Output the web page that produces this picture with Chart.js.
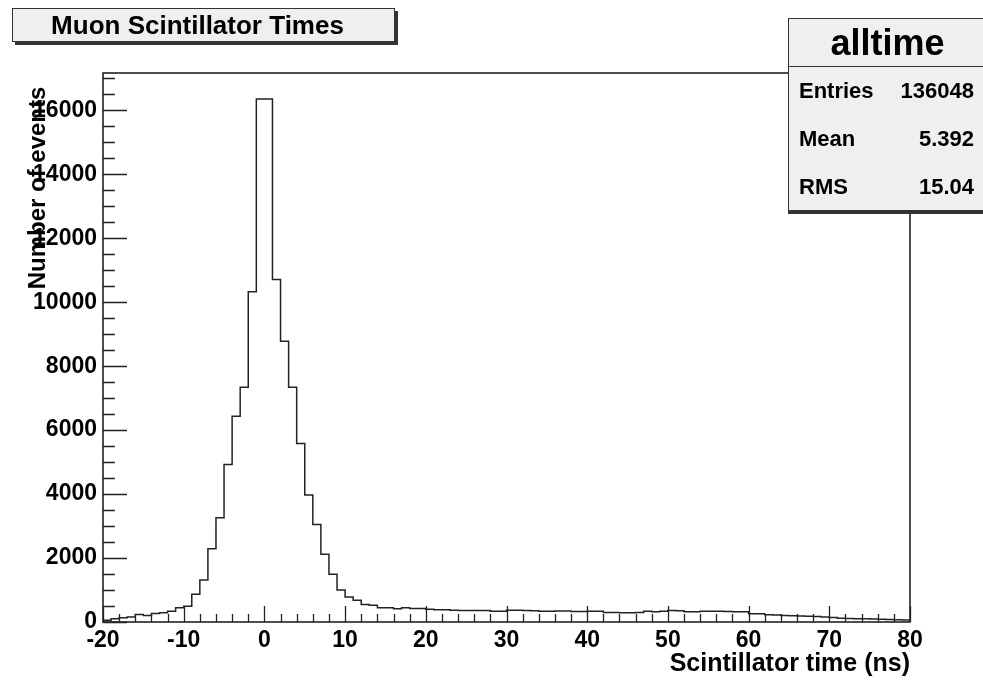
<!DOCTYPE html>
<html>
<head>
<meta charset="utf-8">
<script src="https://cdn.jsdelivr.net/npm/chart.js@4.4.1/dist/chart.umd.min.js"></script>
<style>
  body { margin: 0; background: #fff; overflow: hidden; }
  #wrap { position: relative; width: 983px; height: 682px; overflow: hidden; }
  #wrap, #wrap div { font-family: "Liberation Sans", Arial, Helvetica, sans-serif; font-weight: bold; color: #000; }
  .titlebox { position: absolute; left: 12px; top: 8px; width: 369px; height: 32px; background: #efefef;
    border: 1px solid #333; box-shadow: 3px 3px 0 #333; font-size: 26px; line-height: 32px; text-align: center;
    padding-right: 12px; box-sizing: content-box; }
  .stats { position: absolute; left: 788px; top: 18px; width: 210px; height: 191px; background: #efefef;
    border: 1px solid #333; box-shadow: 0 3px 0 #333; }
  .stats .head { height: 47px; border-bottom: 1px solid #333; font-size: 36px; line-height: 47px; text-align: center; padding-right: 13px; }
  .stats .row { height: 48px; font-size: 22px; line-height: 48px; padding-left: 10px; padding-right: 25px; display: flex; justify-content: space-between; }
</style>
</head>
<body>
<div id="wrap">
  <canvas id="histo" width="983" height="682"></canvas>
  <div class="titlebox">Muon Scintillator Times</div>
  <div class="stats">
    <div class="head">alltime</div>
    <div class="row"><span>Entries</span><span>136048</span></div>
    <div class="row"><span>Mean</span><span>5.392</span></div>
    <div class="row"><span>RMS</span><span>15.04</span></div>
  </div>
</div>
<script>
// histogram: 1 ns bins from -20 to 80
const xMin = -20;
const xMax = 80;
const binWidth = 1;
const counts = [
  56, 100, 130, 160, 234, 203, 265, 286, 338, 443,          // -20 .. -11
  490, 866, 1313, 2292, 3261, 4928, 6438, 7344, 10325, 16356, // -10 .. -1
  16356, 10709, 8781, 7344, 5584, 3969, 3053, 2116, 1491, 1000, // 0 .. 9
  780, 682, 547, 520, 443, 443, 411, 443, 422, 422,         // 10 .. 19
  401, 380, 380, 365, 359, 359, 359, 359, 339, 339,         // 20 .. 29
  370, 365, 359, 355, 339, 339, 345, 345, 328, 328,         // 30 .. 39
  339, 339, 297, 297, 286, 286, 300, 339, 320, 340,         // 40 .. 49
  359, 350, 318, 318, 339, 339, 339, 330, 318, 318,         // 50 .. 59
  260, 255, 225, 220, 200, 195, 185, 180, 170, 160,         // 60 .. 69
  140, 120, 110, 105, 100, 95, 85, 75, 70, 65               // 70 .. 79
];
const xTicks = [-20, -10, 0, 10, 20, 30, 40, 50, 60, 70, 80];
const yTicks = [0, 2000, 4000, 6000, 8000, 10000, 12000, 14000, 16000];
const yMax = 17170;
const xMinorStep = 2;
const yMinorStep = 500;

const FONT = '"Liberation Sans", Arial, Helvetica, sans-serif';

// step outline points: left edge of every bin, closed at both ends
let pts = [{x: xMin, y: 0}];
counts.forEach((c, i) => pts.push({x: xMin + i * binWidth, y: c}));
pts.push({x: xMax, y: counts[counts.length - 1]});
pts.push({x: xMax, y: 0});

const rootFrame = {
  id: 'rootFrame',
  afterDatasetsDraw(chart) {
    const ctx = chart.ctx;
    const a = chart.chartArea;
    const xs = chart.scales.x, ys = chart.scales.y;
    ctx.save();
    ctx.strokeStyle = '#222';
    ctx.lineWidth = 1.3;
    ctx.beginPath();
    // y ticks, inside the frame
    for (let v = 0; v <= yMax; v += yMinorStep) {
      const y = Math.round(ys.getPixelForValue(v)) + 0.5;
      const len = yTicks.includes(v) ? 24 : 12;
      ctx.moveTo(a.left, y);
      ctx.lineTo(a.left + len, y);
    }
    // x ticks
    for (let v = xMin; v <= xMax; v += xMinorStep) {
      const x = Math.round(xs.getPixelForValue(v)) + 0.5;
      const len = xTicks.includes(v) ? 16 : 8;
      ctx.moveTo(x, a.bottom);
      ctx.lineTo(x, a.bottom - len);
    }
    ctx.stroke();
    ctx.lineWidth = 1.6;
    ctx.strokeRect(a.left, a.top, a.right - a.left, a.bottom - a.top);
    // y axis title
    ctx.fillStyle = '#000';
    ctx.font = 'bold 24px ' + FONT;
    ctx.textAlign = 'center';
    ctx.textBaseline = 'middle';
    ctx.translate(38, 188);
    ctx.rotate(-Math.PI / 2);
    ctx.fillText('Number of events', 0, 0);
    ctx.restore();
  }
};

new Chart(document.getElementById('histo'), {
  type: 'line',
  data: {
    datasets: [{
      data: pts,
      stepped: 'before', // horizontal at the bin value up to the next edge
      borderColor: '#222',
      borderWidth: 1.5,
      pointRadius: 0,
      fill: false
    }]
  },
  options: {
    responsive: false,
    animation: false,
    devicePixelRatio: 1,
    layout: { padding: { left: 0, top: 73, right: 73, bottom: 0 } },
    plugins: { legend: { display: false }, tooltip: { enabled: false }, title: { display: false } },
    scales: {
      x: {
        type: 'linear',
        min: xMin,
        max: xMax,
        grid: { display: false, drawTicks: false },
        border: { display: false },
        afterBuildTicks: (s) => { s.ticks = xTicks.map(v => ({value: v})); },
        afterFit: (s) => { s.height = 60; },
        ticks: { color: '#000', padding: 5, maxRotation: 0, autoSkip: false,
          callback: (v) => String(v),
          font: { family: FONT, size: 23, weight: 'bold' } },
        title: { display: true, text: 'Scintillator time (ns)', align: 'end', color: '#000',
          padding: { top: 0, bottom: 3 }, font: { family: FONT, size: 25, weight: 'bold' } }
      },
      y: {
        min: 0,
        max: yMax,
        grid: { display: false, drawTicks: false },
        border: { display: false },
        afterBuildTicks: (s) => { s.ticks = yTicks.map(v => ({value: v})); },
        afterFit: (s) => { s.width = 103; },
        ticks: { color: '#000', padding: 6, autoSkip: false,
          callback: (v) => String(v),
          font: { family: FONT, size: 23, weight: 'bold' } }
      }
    }
  },
  plugins: [rootFrame]
});
</script>
</body>
</html>
